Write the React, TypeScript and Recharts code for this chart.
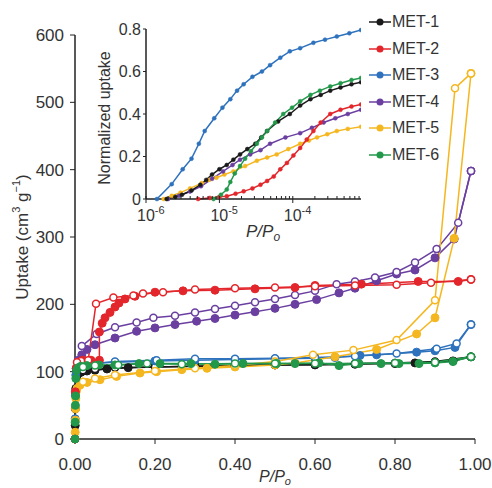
import { LineChart, Line, XAxis, YAxis, Label } from "recharts";

const FONT = "'Liberation Sans', Arial, sans-serif";
const TEXT = "#333";
const AXIS = "#222";

const NAMES = ["MET-1", "MET-2", "MET-3", "MET-4", "MET-5", "MET-6"];
const COLORS = ["#1a1a1a", "#e3262b", "#2e72bd", "#6a3fa0", "#f5b720", "#22984a"];

// ---- main isotherms (P/Po, uptake cm3/g); ads = filled, des = open ----
const met1AdsP = [0, 0.0005, 0.001, 0.002, 0.004, 0.008, 0.015, 0.03, 0.05, 0.08, 0.133, 0.2, 0.3, 0.4, 0.5, 0.6, 0.7, 0.8, 0.85, 0.9, 0.945, 0.99];
const met1AdsU = [0, 20, 45, 75, 92, 97, 99, 101, 102, 104, 106, 107, 108, 109, 110, 110, 111, 112, 113, 114, 116, 122];
const met1DesP = [0.99, 0.9, 0.8, 0.7, 0.6, 0.5, 0.4, 0.3, 0.2, 0.1, 0.05, 0.02];
const met1DesU = [122, 115, 113, 112, 111, 110, 109, 108, 107, 106, 104, 102];

const met2AdsP = [0, 0.001, 0.003, 0.008, 0.02, 0.04, 0.061, 0.061, 0.068, 0.075, 0.0875, 0.1, 0.11, 0.125, 0.15, 0.2, 0.27, 0.35, 0.45, 0.55, 0.6, 0.716, 0.858, 0.958, 0.99];
const met2AdsU = [0, 70, 105, 114, 117, 117, 117, 159, 172, 180, 188, 196, 202, 208, 212, 218, 220, 221, 223, 225, 228, 230, 234, 234, 237];
const met2DesP = [0.99, 0.89, 0.804, 0.7, 0.6, 0.5, 0.4, 0.3, 0.22, 0.17, 0.146, 0.096, 0.0525, 0.033, 0.015, 0.005];
const met2DesU = [237, 232, 229, 228, 227, 225, 224, 222, 218, 216, 213, 210, 201, 117, 116, 114];

const met3AdsP = [0, 0.0005, 0.001, 0.002, 0.004, 0.01, 0.03, 0.06, 0.1, 0.2, 0.3, 0.4, 0.5, 0.6, 0.65, 0.7125, 0.754, 0.854, 0.9, 0.95, 0.99];
const met3AdsU = [0, 30, 65, 95, 104, 108, 111, 113, 114, 116, 117, 118, 119, 120, 121, 124, 125, 129, 131, 136, 170];
const met3DesP = [0.99, 0.954, 0.904, 0.804, 0.7, 0.6, 0.5, 0.4, 0.3, 0.204, 0.1, 0.05];
const met3DesU = [170, 142, 134, 127, 123, 121, 120, 119, 119, 117, 115, 112];

const met4AdsP = [0, 0.001, 0.003, 0.008, 0.017, 0.03, 0.05, 0.1, 0.154, 0.2, 0.25, 0.304, 0.35, 0.4, 0.45, 0.5, 0.55, 0.604, 0.66, 0.7, 0.754, 0.804, 0.85, 0.9, 0.948, 0.99];
const met4AdsU = [0, 70, 105, 117, 125, 133, 140, 150, 160, 165, 170, 175, 179, 184, 189, 194, 200, 207, 217, 224, 235, 245, 251, 269, 297, 398];
const met4DesP = [0.99, 0.958, 0.904, 0.85, 0.804, 0.75, 0.7, 0.654, 0.6, 0.55, 0.5, 0.45, 0.4, 0.35, 0.3, 0.25, 0.196, 0.154, 0.1, 0.054, 0.017];
const met4DesU = [398, 321, 282, 262, 248, 240, 234, 230, 220, 214, 208, 203, 198, 193, 188, 183, 180, 173, 166, 156, 138];

const met5AdsP = [0, 0.0005, 0.001, 0.0015, 0.002, 0.003, 0.005, 0.0125, 0.03, 0.0625, 0.104, 0.1625, 0.204, 0.267, 0.33, 0.4, 0.5, 0.55, 0.65, 0.754, 0.854, 0.9, 0.948, 0.99];
const met5AdsU = [0, 10, 28, 45, 60, 70, 75, 80, 84, 88, 93, 98, 100, 103, 105, 107, 110, 113, 122, 133, 156, 180, 298, 543];
const met5DesP = [0.99, 0.95, 0.9, 0.804, 0.696, 0.595, 0.5, 0.4, 0.3, 0.2, 0.1, 0.05, 0.02];
const met5DesU = [543, 521, 206, 147, 132, 125, 115, 109, 105, 101, 95, 90, 85];

const met6AdsP = [0, 0.0005, 0.001, 0.0015, 0.002, 0.004, 0.008, 0.015, 0.03, 0.06, 0.1, 0.16, 0.2125, 0.29, 0.35, 0.42, 0.504, 0.55, 0.61, 0.66, 0.71, 0.765, 0.81, 0.86, 0.9, 0.945, 0.99];
const met6AdsU = [0, 25, 50, 64, 90, 102, 106, 108, 109, 110, 110, 112, 112, 112, 111, 112, 112, 112, 113, 109, 112, 112, 112, 112, 113, 115, 122];
const met6DesP = [0.99, 0.9, 0.8, 0.7, 0.6, 0.5, 0.4, 0.267, 0.18, 0.108, 0.05, 0.02];
const met6DesU = [122, 114, 113, 112, 112, 112, 112, 111, 112, 110, 109, 107];

// ---- inset: normalized uptake vs P/Po (log) ----
const in1P = [1.91e-6, 2.51e-6, 3.09e-6, 4.17e-6, 5.5e-6, 6.61e-6, 7.94e-6, 1e-5, 1.26e-5, 1.55e-5, 1.91e-5, 2.4e-5, 3.09e-5, 3.72e-5, 4.47e-5, 6.31e-5, 9.12e-5, 1.26e-4, 1.74e-4, 2.4e-4, 3.24e-4, 4.47e-4, 6.31e-4, 8.5e-4];
const in1U = [0, 0.01, 0.02, 0.04, 0.067, 0.09, 0.115, 0.14, 0.16, 0.185, 0.21, 0.235, 0.26, 0.29, 0.32, 0.365, 0.4, 0.44, 0.47, 0.49, 0.51, 0.525, 0.54, 0.55];
const in2P = [5.13e-6, 7.41e-6, 1e-5, 1.26e-5, 1.66e-5, 2.14e-5, 2.82e-5, 3.63e-5, 4.47e-5, 5.5e-5, 6.76e-5, 8.32e-5, 1.02e-4, 1.26e-4, 1.55e-4, 1.91e-4, 2.4e-4, 3.24e-4, 4.47e-4, 6.31e-4, 8.5e-4];
const in2U = [0, 0.005, 0.01, 0.013, 0.025, 0.036, 0.05, 0.067, 0.085, 0.106, 0.14, 0.17, 0.205, 0.24, 0.28, 0.32, 0.36, 0.4, 0.42, 0.435, 0.445];
const in3P = [1.41e-6, 2.24e-6, 3.16e-6, 4.17e-6, 5.25e-6, 6.31e-6, 8.51e-6, 1.1e-5, 1.41e-5, 1.74e-5, 2.14e-5, 2.82e-5, 3.8e-5, 4.9e-5, 6.76e-5, 9.12e-5, 1.26e-4, 1.91e-4, 2.75e-4, 3.98e-4, 5.89e-4, 8.5e-4];
const in3U = [0, 0.07, 0.14, 0.19, 0.26, 0.32, 0.38, 0.43, 0.47, 0.51, 0.54, 0.575, 0.6, 0.63, 0.665, 0.695, 0.71, 0.735, 0.75, 0.765, 0.78, 0.795];
const in4P = [2e-6, 2.82e-6, 3.98e-6, 5.62e-6, 7.94e-6, 1.12e-5, 1.51e-5, 1.91e-5, 2.63e-5, 3.63e-5, 4.9e-5, 7.94e-5, 1.26e-4, 1.82e-4, 2.63e-4, 3.8e-4, 5.62e-4, 8.5e-4];
const in4U = [0, 0.015, 0.035, 0.06, 0.095, 0.13, 0.16, 0.185, 0.21, 0.23, 0.26, 0.29, 0.31, 0.335, 0.36, 0.38, 0.4, 0.42];
const in5P = [1.74e-6, 2.24e-6, 2.95e-6, 3.98e-6, 5.75e-6, 7.24e-6, 9.12e-6, 1.17e-5, 1.55e-5, 2.24e-5, 3.24e-5, 4.47e-5, 6.03e-5, 8.71e-5, 1.26e-4, 1.66e-4, 2.14e-4, 2.95e-4, 3.98e-4, 5.62e-4, 8.5e-4];
const in5U = [0, 0.015, 0.03, 0.05, 0.075, 0.09, 0.1, 0.115, 0.13, 0.155, 0.18, 0.195, 0.21, 0.235, 0.26, 0.275, 0.29, 0.305, 0.32, 0.33, 0.34];
const in6P = [8.32e-6, 1.05e-5, 1.26e-5, 1.41e-5, 1.62e-5, 1.91e-5, 2.24e-5, 2.69e-5, 3.24e-5, 3.8e-5, 4.47e-5, 5.75e-5, 7.41e-5, 9.77e-5, 1.26e-4, 1.74e-4, 2.34e-4, 3.24e-4, 4.47e-4, 6.31e-4, 8.5e-4];
const in6U = [0, 0.02, 0.045, 0.08, 0.12, 0.155, 0.19, 0.225, 0.26, 0.29, 0.32, 0.36, 0.4, 0.43, 0.46, 0.49, 0.51, 0.53, 0.545, 0.56, 0.57];

const X_TICKS = [0, 0.2, 0.4, 0.6, 0.8, 1];
const Y_TICKS = [0, 100, 200, 300, 400, 500, 600];
const INSET_Y_TICKS = [0, 0.2, 0.4, 0.6, 0.8];
const INSET_X_TICKS = [
  1e-6, 2e-6, 3e-6, 4e-6, 5e-6, 6e-6, 7e-6, 8e-6, 9e-6,
  1e-5, 2e-5, 3e-5, 4e-5, 5e-5, 6e-5, 7e-5, 8e-5, 9e-5,
  1e-4, 2e-4, 3e-4, 4e-4, 5e-4, 6e-4, 7e-4, 8e-4,
];
const INSET_MAJOR = [1e-6, 1e-5, 1e-4];
const INSET_MAJOR_EXP = ["-6", "-5", "-4"];

const zip = (p: number[], u: number[]) => p.map((v, i) => ({ p: v, u: u[i] }));

const mainSeries = [
  { c: 0, ads: zip(met1AdsP, met1AdsU), des: zip(met1DesP, met1DesU) },
  { c: 2, ads: zip(met3AdsP, met3AdsU), des: zip(met3DesP, met3DesU) },
  { c: 3, ads: zip(met4AdsP, met4AdsU), des: zip(met4DesP, met4DesU) },
  { c: 4, ads: zip(met5AdsP, met5AdsU), des: zip(met5DesP, met5DesU) },
  { c: 1, ads: zip(met2AdsP, met2AdsU), des: zip(met2DesP, met2DesU) },
  { c: 5, ads: zip(met6AdsP, met6AdsU), des: zip(met6DesP, met6DesU) },
];

const insetSeries = [
  { c: 2, data: zip(in3P, in3U) },
  { c: 4, data: zip(in5P, in5U) },
  { c: 3, data: zip(in4P, in4U) },
  { c: 0, data: zip(in1P, in1U) },
  { c: 1, data: zip(in2P, in2U) },
  { c: 5, data: zip(in6P, in6U) },
];

// filled marker; MET-4 starts with a diamond at the origin
const adsDot = (c: number) => (props: any) => {
  const { cx, cy, index } = props;
  if (cx == null || cy == null) return <g key={index} />;
  if (c === 3 && index === 0) {
    return (
      <path
        key={index}
        d={`M${cx},${cy - 5}L${cx + 5},${cy}L${cx},${cy + 5}L${cx - 5},${cy}Z`}
        fill={COLORS[c]}
      />
    );
  }
  return <circle key={index} cx={cx} cy={cy} r={4} fill={COLORS[c]} stroke={COLORS[c]} strokeWidth={1} />;
};

function LogTick({ x, y, payload }: any) {
  const v = payload.value;
  const i = INSET_MAJOR.findIndex((m) => Math.abs(m - v) / m < 1e-6);
  if (i < 0) return <line x1={x} x2={x} y1={y} y2={y - 3} stroke={AXIS} />;
  return (
    <g>
      <line x1={x} x2={x} y1={y - 3} y2={y + 4} stroke={AXIS} />
      <text x={x - 9} y={y + 22} fontSize={16} fill={TEXT} fontFamily={FONT}>
        10
        <tspan dy={-7} fontSize={11}>
          {INSET_MAJOR_EXP[i]}
        </tspan>
      </text>
    </g>
  );
}

// legend sits beside the inset, outside both chart layouts
function MetLegend() {
  return (
    <div
      style={{
        position: "absolute",
        left: 369,
        top: 9,
        fontFamily: FONT,
        fontSize: 16,
        color: TEXT,
      }}
    >
      {NAMES.map((n, i) => (
        <div key={n} style={{ height: 26.5, display: "flex", alignItems: "center" }}>
          <svg width={23} height={10}>
            <line x1={0} x2={22} y1={5} y2={5} stroke={COLORS[i]} strokeWidth={1.5} />
            <circle cx={11} cy={5} r={3.5} fill={COLORS[i]} />
          </svg>
          <span>{n}</span>
        </div>
      ))}
    </div>
  );
}

export default function App() {
  return (
    <div style={{ position: "absolute", left: 0, top: 0, width: 492, height: 488, background: "#fff" }}>
      <LineChart width={492} height={488} margin={{ top: 35, right: 17, left: 15, bottom: 19 }}>
        <XAxis
          type="number"
          dataKey="p"
          domain={[0, 1]}
          ticks={X_TICKS}
          interval={0}
          tickFormatter={(v) => v.toFixed(2)}
          tick={{ fontSize: 17, fill: TEXT, fontFamily: FONT }}
          tickSize={5}
          tickMargin={14}
          height={30}
          axisLine={{ stroke: AXIS, strokeWidth: 1.5 }}
          tickLine={{ stroke: AXIS }}
        >
          <Label
            content={({ viewBox }: any) => (
              <text
                x={viewBox.x + viewBox.width / 2}
                y={viewBox.y + 43}
                textAnchor="middle"
                fontSize={16}
                fontStyle="italic"
                fill={TEXT}
                fontFamily={FONT}
              >
                P/P<tspan fontSize={11} dy={3}>o</tspan>
              </text>
            )}
          />
        </XAxis>
        <YAxis
          type="number"
          domain={[0, 600]}
          ticks={Y_TICKS}
          interval={0}
          width={60}
          tick={{ fontSize: 17, fill: TEXT, fontFamily: FONT }}
          tickSize={5}
          tickMargin={6}
          axisLine={{ stroke: AXIS, strokeWidth: 1.5 }}
          tickLine={{ stroke: AXIS }}
        >
          <Label
            content={({ viewBox }: any) => {
              const cx = viewBox.x + 7;
              const cy = viewBox.y + viewBox.height / 2;
              return (
                <text
                  x={cx}
                  y={cy}
                  transform={`rotate(-90, ${cx}, ${cy})`}
                  textAnchor="middle"
                  dominantBaseline="central"
                  fontSize={17}
                  fill={TEXT}
                  fontFamily={FONT}
                >
                  Uptake (cm<tspan fontSize={11} dy={-6}>3</tspan>
                  <tspan dy={6}> g</tspan>
                  <tspan fontSize={11} dy={-6}>−1</tspan>
                  <tspan dy={6}>)</tspan>
                </text>
              );
            }}
          />
        </YAxis>
        {mainSeries.map((s) => [
          <Line
            key={`a${s.c}`}
            data={s.ads}
            dataKey="u"
            stroke={COLORS[s.c]}
            strokeWidth={1.5}
            dot={adsDot(s.c)}
            isAnimationActive={false}
          />,
          <Line
            key={`d${s.c}`}
            data={s.des}
            dataKey="u"
            stroke={COLORS[s.c]}
            strokeWidth={1.5}
            dot={{ r: 3.5, fill: "#fff", stroke: COLORS[s.c], strokeWidth: 1.5 }}
            isAnimationActive={false}
          />,
        ])}
      </LineChart>

      <div style={{ position: "absolute", left: 0, top: 0 }}>
        <LineChart width={492} height={250} margin={{ top: 29, right: 131, left: 106, bottom: 26 }}>
          <XAxis
            type="number"
            dataKey="p"
            scale="log"
            domain={[1e-6, 8.5e-4]}
            allowDataOverflow
            ticks={INSET_X_TICKS}
            interval={0}
            tick={<LogTick />}
            tickLine={false}
            tickSize={0}
            tickMargin={0}
            height={25}
            axisLine={{ stroke: AXIS, strokeWidth: 1.5 }}
          >
            <Label
              content={({ viewBox }: any) => (
                <text x={246} y={viewBox.y + 38} fontSize={17} fontStyle="italic" fill={TEXT} fontFamily={FONT}>
                  P/P<tspan fontSize={12} dy={4}>o</tspan>
                </text>
              )}
            />
          </XAxis>
          <YAxis
            type="number"
            domain={[0, 0.8]}
            ticks={INSET_Y_TICKS}
            interval={0}
            width={40}
            tickFormatter={(v) => (v === 0 ? "0" : v.toFixed(1))}
            tick={{ fontSize: 16, fill: TEXT, fontFamily: FONT }}
            tickSize={3}
            tickMargin={2}
            axisLine={{ stroke: AXIS, strokeWidth: 1.5 }}
            tickLine={{ stroke: AXIS }}
          >
            <Label
              content={({ viewBox }: any) => {
                const cx = viewBox.x - 2;
                const cy = viewBox.y + viewBox.height / 2 + 4;
                return (
                  <text
                    x={cx}
                    y={cy}
                    transform={`rotate(-90, ${cx}, ${cy})`}
                    textAnchor="middle"
                    dominantBaseline="central"
                    fontSize={16}
                    fill={TEXT}
                    fontFamily={FONT}
                  >
                    Normalized uptake
                  </text>
                );
              }}
            />
          </YAxis>
          {insetSeries.map((s) => (
            <Line
              key={s.c}
              data={s.data}
              dataKey="u"
              stroke={COLORS[s.c]}
              strokeWidth={1.5}
              dot={{ r: 2, fill: COLORS[s.c], stroke: COLORS[s.c], strokeWidth: 0.5 }}
              isAnimationActive={false}
            />
          ))}
        </LineChart>
      </div>

      <MetLegend />
    </div>
  );
}
